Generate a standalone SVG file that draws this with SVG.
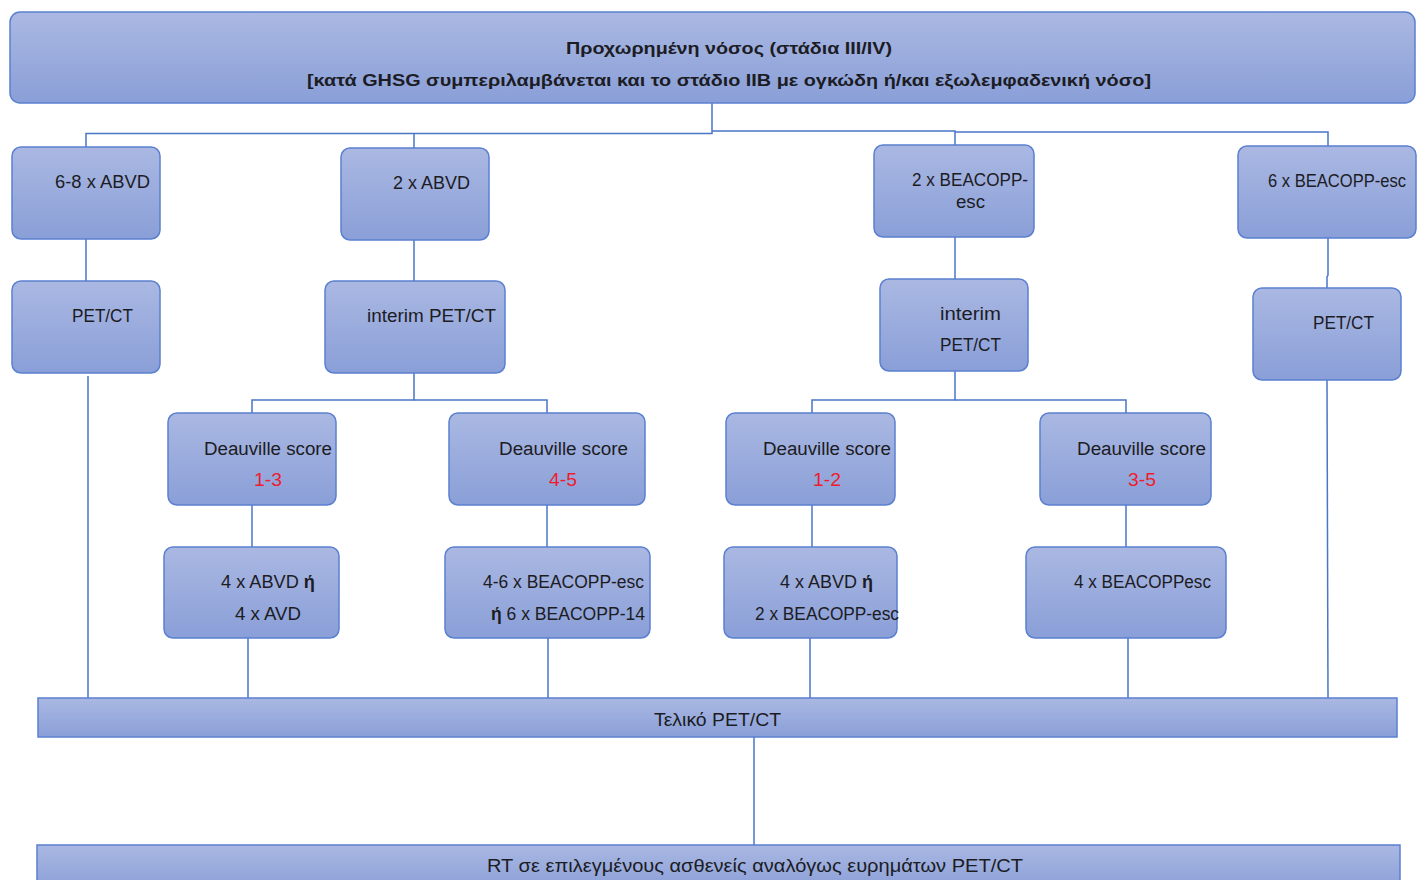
<svg xmlns="http://www.w3.org/2000/svg" width="1418" height="880" viewBox="0 0 1418 880">
  <defs>
    <linearGradient id="boxFill" x1="0" y1="0" x2="0" y2="1">
      <stop offset="0" stop-color="#aab8e2"/>
      <stop offset="1" stop-color="#8a9fd8"/>
    </linearGradient>
    <style>
      .box { fill: url(#boxFill); stroke: #5b80d0; stroke-width: 1.5; }
      .lbl { font-family: "Liberation Sans", Arial, sans-serif; font-size: 18px; fill: #1c1c24; }
      .hdr { font-family: "Liberation Sans", Arial, sans-serif; font-size: 17px; font-weight: bold; fill: #1c1c24; }
      .red { fill: #ee1c2c; }
      .b { font-weight: bold; }
      .conn { stroke: #4a76c8; stroke-width: 1.5; fill: none; }
    </style>
  </defs>
  <rect width="1418" height="880" fill="#ffffff"/>

  <!-- connectors -->
  <g id="connectors">
    <polyline class="conn" points="712,103 712,133.5 86,133.5 86,147"/>
    <line class="conn" x1="414" y1="133.5" x2="414" y2="148"/>
    <polyline class="conn" points="712,131 955,131 955,145" stroke-width="2.5"/>
    <polyline class="conn" points="955,132 1328,132 1328,146"/>
    <line class="conn" x1="86" y1="239" x2="86" y2="281"/>
    <line class="conn" x1="414" y1="240" x2="414" y2="281"/>
    <line class="conn" x1="955" y1="237" x2="955" y2="279"/>
    <polyline class="conn" points="1328,238 1328,275 1327,277 1327,288"/>
    <line class="conn" x1="88" y1="376" x2="88" y2="698"/>
    <polyline class="conn" points="414,373 414,400 252,400 252,413"/>
    <polyline class="conn" points="414,400 547,400 547,413"/>
    <polyline class="conn" points="955,371 955,400 812,400 812,413"/>
    <polyline class="conn" points="955,400 1126,400 1126,413"/>
    <line class="conn" x1="1327" y1="380" x2="1328" y2="698" stroke="#8ea6da"/>
    <line class="conn" x1="252" y1="505" x2="252" y2="547"/>
    <line class="conn" x1="547" y1="505" x2="547" y2="547"/>
    <line class="conn" x1="812" y1="505" x2="812" y2="547"/>
    <line class="conn" x1="1126" y1="505" x2="1126" y2="547"/>
    <line class="conn" x1="248" y1="638" x2="248" y2="698"/>
    <line class="conn" x1="548" y1="638" x2="548" y2="698"/>
    <line class="conn" x1="810" y1="638" x2="810" y2="698"/>
    <line class="conn" x1="1128" y1="638" x2="1128" y2="698"/>
    <line class="conn" x1="754" y1="737" x2="754" y2="845"/>
  </g>

  <g id="advanced-disease">
    <rect class="box" x="10" y="12" width="1405" height="91" rx="10"/>
    <text class="hdr" x="566" y="54" textLength="326" lengthAdjust="spacingAndGlyphs">Προχωρημένη νόσος (στάδια III/IV)</text>
    <text class="hdr" x="307" y="86" textLength="844" lengthAdjust="spacingAndGlyphs">[κατά GHSG συμπεριλαμβάνεται και το  στάδιο IIB με ογκώδη ή/και εξωλεμφαδενική νόσο]</text>
  </g>

  <g id="abvd-6-8">
    <rect class="box" x="12" y="147" width="148" height="92" rx="9"/>
    <text class="lbl" x="55" y="188" textLength="95" lengthAdjust="spacingAndGlyphs">6-8 x ABVD</text>
  </g>
  <g id="abvd-2">
    <rect class="box" x="341" y="148" width="148" height="92" rx="9"/>
    <text class="lbl" x="393" y="189" textLength="77" lengthAdjust="spacingAndGlyphs">2 x ABVD</text>
  </g>
  <g id="beacopp-2">
    <rect class="box" x="874" y="145" width="160" height="92" rx="9"/>
    <text class="lbl" x="912" y="186" textLength="116" lengthAdjust="spacingAndGlyphs">2 x BEACOPP-</text>
    <text class="lbl" x="956" y="208" textLength="29" lengthAdjust="spacingAndGlyphs">esc</text>
  </g>
  <g id="beacopp-6">
    <rect class="box" x="1238" y="146" width="178" height="92" rx="9"/>
    <text class="lbl" x="1268" y="187" textLength="138" lengthAdjust="spacingAndGlyphs">6 x BEACOPP-esc</text>
  </g>

  <g id="pet-left">
    <rect class="box" x="12" y="281" width="148" height="92" rx="9"/>
    <text class="lbl" x="72" y="322" textLength="61" lengthAdjust="spacingAndGlyphs">PET/CT</text>
  </g>
  <g id="interim-abvd">
    <rect class="box" x="325" y="281" width="180" height="92" rx="9"/>
    <text class="lbl" x="367" y="322" textLength="129" lengthAdjust="spacingAndGlyphs">interim PET/CT</text>
  </g>
  <g id="interim-beacopp">
    <rect class="box" x="880" y="279" width="148" height="92" rx="9"/>
    <text class="lbl" x="940" y="320" textLength="61" lengthAdjust="spacingAndGlyphs">interim</text>
    <text class="lbl" x="940" y="351" textLength="61" lengthAdjust="spacingAndGlyphs">PET/CT</text>
  </g>
  <g id="pet-right">
    <rect class="box" x="1253" y="288" width="148" height="92" rx="9"/>
    <text class="lbl" x="1313" y="329" textLength="61" lengthAdjust="spacingAndGlyphs">PET/CT</text>
  </g>

  <g id="ds-1-3">
    <rect class="box" x="168" y="413" width="168" height="92" rx="9"/>
    <text class="lbl" x="204" y="455" textLength="128" lengthAdjust="spacingAndGlyphs">Deauville score</text>
    <text class="lbl red" x="254" y="486" textLength="28" lengthAdjust="spacingAndGlyphs">1-3</text>
  </g>
  <g id="ds-4-5">
    <rect class="box" x="449" y="413" width="196" height="92" rx="9"/>
    <text class="lbl" x="499" y="455" textLength="129" lengthAdjust="spacingAndGlyphs">Deauville score</text>
    <text class="lbl red" x="549" y="486" textLength="28" lengthAdjust="spacingAndGlyphs">4-5</text>
  </g>
  <g id="ds-1-2">
    <rect class="box" x="726" y="413" width="169" height="92" rx="9"/>
    <text class="lbl" x="763" y="455" textLength="128" lengthAdjust="spacingAndGlyphs">Deauville score</text>
    <text class="lbl red" x="813" y="486" textLength="28" lengthAdjust="spacingAndGlyphs">1-2</text>
  </g>
  <g id="ds-3-5">
    <rect class="box" x="1040" y="413" width="171" height="92" rx="9"/>
    <text class="lbl" x="1077" y="455" textLength="129" lengthAdjust="spacingAndGlyphs">Deauville score</text>
    <text class="lbl red" x="1128" y="486" textLength="28" lengthAdjust="spacingAndGlyphs">3-5</text>
  </g>

  <g id="abvd-avd">
    <rect class="box" x="164" y="547" width="175" height="91" rx="9"/>
    <text class="lbl" x="221" y="588" textLength="94" lengthAdjust="spacingAndGlyphs">4 x ABVD <tspan class="b">ή</tspan></text>
    <text class="lbl" x="235" y="620" textLength="66" lengthAdjust="spacingAndGlyphs">4 x AVD</text>
  </g>
  <g id="beacopp-esc-14">
    <rect class="box" x="445" y="547" width="205" height="91" rx="9"/>
    <text class="lbl" x="483" y="588" textLength="161" lengthAdjust="spacingAndGlyphs">4-6 x BEACOPP-esc</text>
    <text class="lbl" x="491" y="620" textLength="154" lengthAdjust="spacingAndGlyphs"><tspan class="b">ή</tspan> 6 x BEACOPP-14</text>
  </g>
  <g id="abvd-beacopp">
    <rect class="box" x="724" y="547" width="173" height="91" rx="9"/>
    <text class="lbl" x="780" y="588" textLength="93" lengthAdjust="spacingAndGlyphs">4 x ABVD <tspan class="b">ή</tspan></text>
    <text class="lbl" x="755" y="620" textLength="144" lengthAdjust="spacingAndGlyphs">2 x BEACOPP-esc</text>
  </g>
  <g id="beacoppesc-4">
    <rect class="box" x="1026" y="547" width="200" height="91" rx="9"/>
    <text class="lbl" x="1074" y="588" textLength="137" lengthAdjust="spacingAndGlyphs">4 x BEACOPPesc</text>
  </g>

  <g id="final-pet">
    <rect class="box" x="38" y="698" width="1359" height="39"/>
    <text class="lbl" x="654" y="726" textLength="127" lengthAdjust="spacingAndGlyphs">Τελικό PET/CT</text>
  </g>
  <g id="rt">
    <rect class="box" x="37" y="845" width="1363" height="45"/>
    <text class="lbl" x="487" y="872" textLength="536" lengthAdjust="spacingAndGlyphs">RT σε επιλεγμένους ασθενείς αναλόγως ευρημάτων PET/CT</text>
  </g>
</svg>
